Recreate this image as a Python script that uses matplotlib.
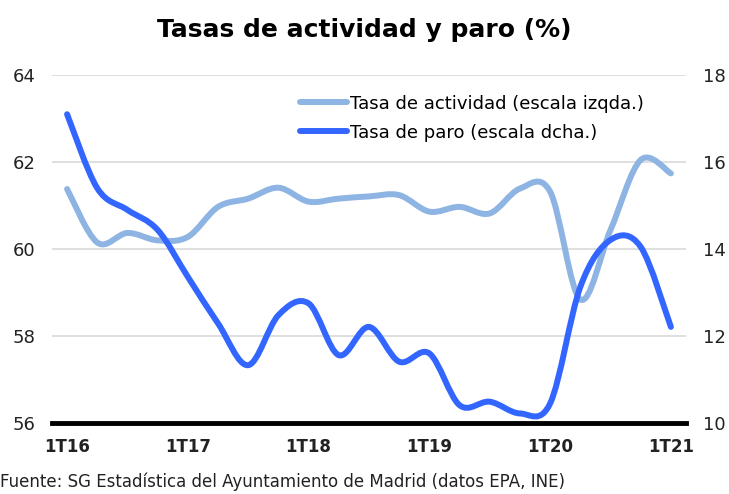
import matplotlib
matplotlib.use("Agg")
import matplotlib.pyplot as plt
from matplotlib.path import Path
from matplotlib.patches import PathPatch
from matplotlib.lines import Line2D
import numpy as np

quarters = ["1T16", "2T16", "3T16", "4T16", "1T17", "2T17", "3T17", "4T17",
            "1T18", "2T18", "3T18", "4T18", "1T19", "2T19", "3T19", "4T19",
            "1T20", "2T20", "3T20", "4T20", "1T21"]
actividad = [61.38, 60.15, 60.37, 60.2, 60.28, 60.97, 61.16, 61.41,
             61.09, 61.16, 61.21, 61.24, 60.86, 60.97, 60.82, 61.39,
             61.32, 58.84, 60.44, 62.05, 61.74]
paro = [17.1, 15.4, 14.9, 14.44, 13.36, 12.29, 11.33, 12.48,
        12.75, 11.56, 12.21, 11.41, 11.6, 10.41, 10.49, 10.22,
        10.45, 13.13, 14.21, 14.05, 12.21]
tick_labels = ["1T16", "1T17", "1T18", "1T19", "1T20", "1T21"]

C_ACT = "#8EB4E3"
C_PARO = "#3366FF"


def smooth_path(x, y):
    x = np.asarray(x, float)
    y = np.asarray(y, float)
    n = len(x)
    verts = [(x[0], y[0])]
    codes = [Path.MOVETO]
    for i in range(n - 1):
        i0 = max(i - 1, 0)
        i3 = min(i + 2, n - 1)
        c1 = (x[i] + (x[i + 1] - x[i0]) / 6, y[i] + (y[i + 1] - y[i0]) / 6)
        c2 = (x[i + 1] - (x[i3] - x[i]) / 6, y[i + 1] - (y[i3] - y[i]) / 6)
        verts += [c1, c2, (x[i + 1], y[i + 1])]
        codes += [Path.CURVE4] * 3
    return Path(verts, codes)


fig = plt.figure(figsize=(7.29, 4.94), dpi=100)
ax = fig.add_axes([0.0713, 0.1437, 0.8697, 0.7043])
ax2 = ax.twinx()

xs = np.arange(len(quarters))

p1 = PathPatch(smooth_path(xs, actividad), facecolor="none", edgecolor=C_ACT,
               lw=4.3, capstyle="round", joinstyle="round", zorder=3)
ax.add_patch(p1)
p2 = PathPatch(smooth_path(xs, paro), facecolor="none", edgecolor=C_PARO,
               lw=4.3, capstyle="round", joinstyle="round", zorder=3)
ax2.add_patch(p2)

ax.set_xlim(-0.5, len(quarters) - 0.5)
ax.set_ylim(56, 64)
ax2.set_ylim(10, 18)
ax.set_yticks([56, 58, 60, 62, 64])
ax2.set_yticks([10, 12, 14, 16, 18])
ax.set_xticks([0, 4, 8, 12, 16, 20])
ax.set_xticklabels(tick_labels, fontweight="bold")

for a in (ax, ax2):
    for s in ("top", "left", "right"):
        a.spines[s].set_visible(False)
    a.spines["bottom"].set_visible(False)
    a.tick_params(length=0, labelsize=13, colors="#222222")

ax.tick_params(axis="x", pad=11, labelsize=12)
ax.tick_params(axis="y", pad=12)
ax2.tick_params(axis="y", pad=12)
ax.grid(axis="y", color="#D9D9D9", lw=1.2)
ax.set_axisbelow(True)
ax.axhline(56, color="black", lw=3.5, zorder=5, clip_on=False)

handles = [Line2D([], [], color=C_ACT, lw=4.3, solid_capstyle="round"),
           Line2D([], [], color=C_PARO, lw=4.3, solid_capstyle="round")]
ax2.legend(handles, ["Tasa de actividad (escala izqda.)", "Tasa de paro (escala dcha.)"],
           loc="upper left", bbox_to_anchor=(0.366, 0.99), frameon=False,
           fontsize=13, handlelength=2.6, handletextpad=0.15, labelspacing=0.6)

fig.text(0.5, 0.94, "Tasas de actividad y paro (%)", ha="center", va="center",
         fontsize=18, fontweight="bold")
fig.text(0.0, 0.006, "Fuente: SG Estadística del Ayuntamiento de Madrid (datos EPA, INE)",
         ha="left", va="bottom", fontsize=12, color="#222222")

fig.savefig("out.png", dpi=100)
